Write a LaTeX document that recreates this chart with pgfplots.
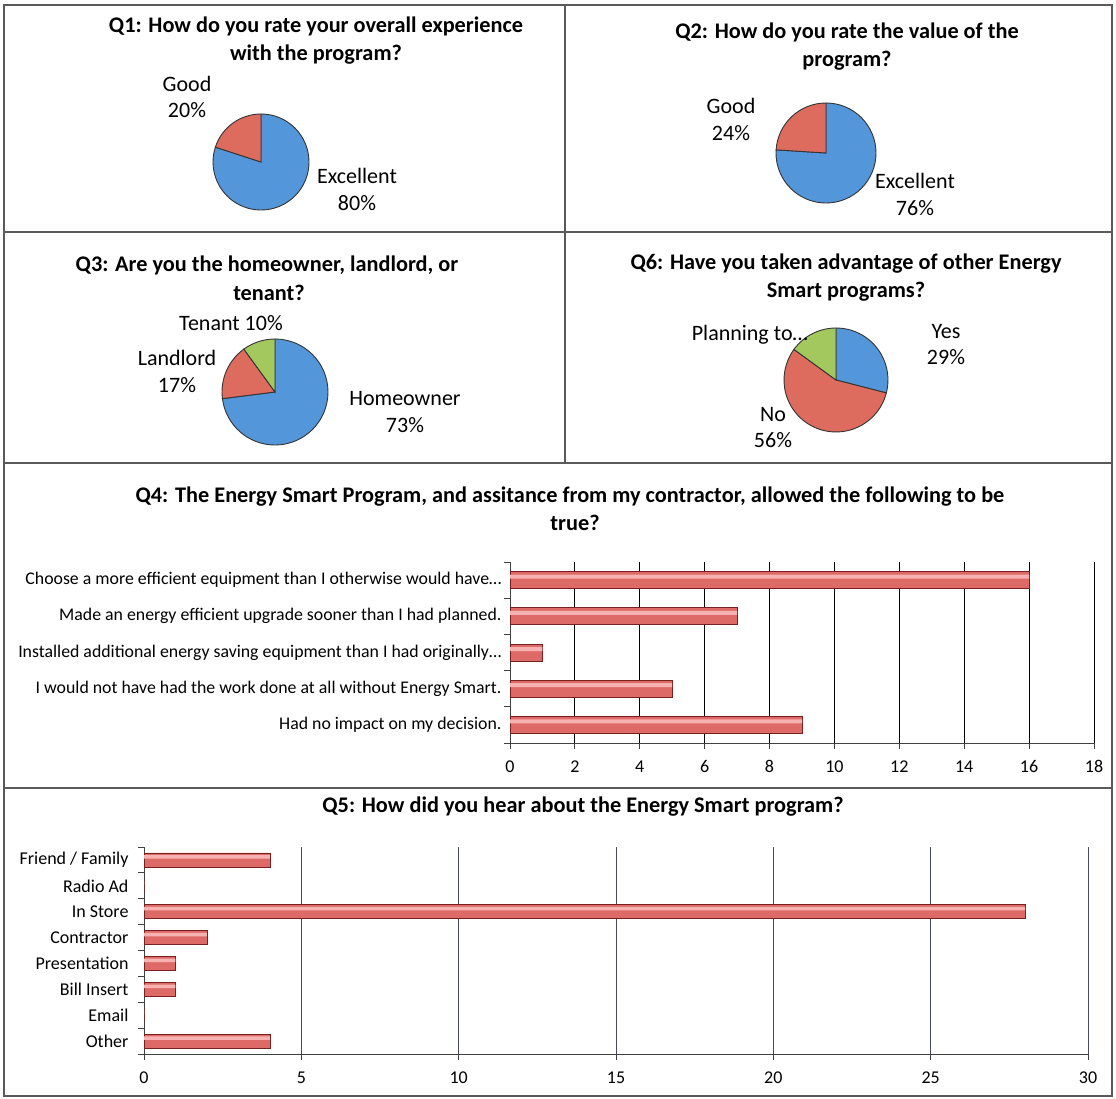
\documentclass[border=0pt]{standalone}
\usepackage{fontspec}
\setmainfont{Carlito}
\usepackage{pgfplots}
\pgfplotsset{compat=1.18}

\definecolor{pieblue}{RGB}{84,150,218}
\definecolor{piered}{RGB}{222,108,94}
\definecolor{piegreen}{RGB}{162,200,94}
\definecolor{barlight}{RGB}{246,178,176}
\definecolor{barmid}{RGB}{222,106,104}
\definecolor{bardark}{RGB}{120,32,32}
\definecolor{frame}{RGB}{90,90,90}
\definecolor{grid5}{RGB}{72,72,105}

% pie slice from cumulative percent #1 to #2, clockwise from 12 o'clock
\newcommand{\slice}[4]{%
  \filldraw[fill=#3, draw=black!80, line width=0.9pt]
    (axis cs:0,0) -- (axis cs:{cos(90-3.6*#1)},{sin(90-3.6*#1)})
    arc[start angle={90-3.6*#1}, end angle={90-3.6*#2}, radius=#4] -- cycle;}

\pgfplotsset{
  pie/.style={hide axis, scale only axis, width=#1, height=#1,
    xmin=-1, xmax=1, ymin=-1, ymax=1, anchor=center, clip=false},
  hbars/.style={scale only axis, anchor=south west,
    axis lines*=left, axis line style={-, black!75, line width=0.9pt},
    y tick label as interval, tick align=outside, major tick length=6pt,
    tick style={black!75, line width=0.8pt},
    xmajorgrids, xbar, xmin=0,
    /pgf/number format/assume math mode=true,
    ticklabel style={font=\fontsize{18}{21}\selectfont, black},
    xticklabel style={yshift=-8pt}},
  barstyle/.style={fill=barmid, draw=bardark, line width=0.7pt, bar shift=0pt},
  barhigh/.style={fill=barlight, draw=none, bar shift=#1}
}

\tikzset{ttl/.style={font=\fontsize{22.3}{26}\selectfont\bfseries, text height=15pt, text depth=5pt, inner sep=0pt},
  lbl/.style={font=\fontsize{22}{26}\selectfont, text height=15pt, text depth=5pt, inner sep=0pt}}

\begin{document}
\begin{tikzpicture}
\useasboundingbox (0pt,0pt) rectangle (1116pt,-1099pt);

% frames
\draw[frame, line width=1.2pt] (4pt,-5pt) rectangle (1112pt,-1096pt);
\draw[frame, line width=1.2pt] (565pt,-5pt) -- (565pt,-463pt);
\draw[frame, line width=1.2pt] (4pt,-232pt) -- (1112pt,-232pt);
\draw[frame, line width=1.2pt] (4pt,-463pt) -- (1112pt,-463pt);
\draw[frame, line width=1.2pt] (4pt,-788pt) -- (1112pt,-788pt);

% ---------- Q1
\node[ttl] at (316pt,-28pt) {Q1: How do you rate your overall experience};
\node[ttl] at (316pt,-56pt) {with the program?};
\begin{axis}[pie=96pt, at={(261pt,-162pt)}]
  \slice{0}{80}{pieblue}{48pt}
  \slice{80}{100}{piered}{48pt}
\end{axis}
\node[lbl] at (187pt,-87pt) {Good};
\node[lbl] at (187pt,-113pt) {20\%};
\node[lbl] at (357pt,-179pt) {Excellent};
\node[lbl] at (357pt,-206pt) {80\%};

% ---------- Q2
\node[ttl] at (847pt,-34pt) {Q2: How do you rate the value of the};
\node[ttl] at (847pt,-62pt) {program?};
\begin{axis}[pie=100pt, at={(826pt,-153pt)}]
  \slice{0}{76}{pieblue}{50pt}
  \slice{76}{100}{piered}{50pt}
\end{axis}
\node[lbl] at (731pt,-109pt) {Good};
\node[lbl] at (731pt,-136pt) {24\%};
\node[lbl] at (915pt,-184pt) {Excellent};
\node[lbl] at (915pt,-211pt) {76\%};

% ---------- Q3
\node[ttl] at (267pt,-267pt) {Q3: Are you the homeowner, landlord, or};
\node[ttl] at (269pt,-296pt) {tenant?};
\begin{axis}[pie=106pt, at={(275pt,-392pt)}]
  \slice{0}{73}{pieblue}{53pt}
  \slice{73}{90}{piered}{53pt}
  \slice{90}{100}{piegreen}{53pt}
\end{axis}
\node[lbl] at (231pt,-325pt) {Tenant 10\%};
\node[lbl] at (177pt,-360pt) {Landlord};
\node[lbl] at (177pt,-387pt) {17\%};
\node[lbl] at (405pt,-400pt) {Homeowner};
\node[lbl] at (405pt,-427pt) {73\%};

% ---------- Q6
\node[ttl] at (846pt,-265pt) {Q6: Have you taken advantage of other Energy};
\node[ttl] at (846pt,-293pt) {Smart programs?};
\begin{axis}[pie=104pt, at={(836pt,-380pt)}]
  \slice{0}{29}{pieblue}{52pt}
  \slice{29}{85}{piered}{52pt}
  \slice{85}{100}{piegreen}{52pt}
\end{axis}
\node[lbl, anchor=east] at (808pt,-335pt) {Planning to…};
\node[lbl] at (946pt,-333pt) {Yes};
\node[lbl] at (946pt,-359pt) {29\%};
\node[lbl] at (773pt,-416pt) {No};
\node[lbl] at (773pt,-442pt) {56\%};

% ---------- Q4
\node[ttl] at (570pt,-497pt) {Q4: The Energy Smart Program, and assitance from my contractor, allowed the following to be};
\node[ttl] at (575pt,-525pt) {true?};
\begin{axis}[hbars, at={(510pt,-743pt)}, width=584pt, height=181pt,
    xmax=18, xtick={0,2,...,18},
    ymin=-0.5, ymax=4.5, ytick={-0.5,0.5,...,4.5},
    yticklabels={{Had no impact on my decision.},
      {I would not have had the work done at all without Energy Smart.},
      {Installed additional energy saving equipment than I had originally…},
      {Made an energy efficient upgrade sooner than I had planned.},
      {Choose a more efficient equipment than I otherwise would have…}},
    yticklabel style={xshift=1pt, font=\fontsize{17.8}{21}\selectfont},
    grid style={black, line width=0.8pt}]
  \addplot[barstyle, bar width=17pt] coordinates {
    (9,0) (5,1) (1,2) (7,3) (16,4)};
  \addplot[barhigh=3.5pt, bar width=4pt] coordinates {
    (9,0) (5,1) (1,2) (7,3) (16,4)};
\end{axis}

% ---------- Q5
\node[ttl] at (583pt,-807pt) {Q5: How did you hear about the Energy Smart program?};
\begin{axis}[hbars, at={(144pt,-1054pt)}, width=944pt, height=207pt,
    xmax=30, xtick={0,5,...,30},
    ymin=-0.5, ymax=7.5, ytick={-0.5,0.5,...,7.5},
    yticklabels={Other, Email, Bill Insert, Presentation, Contractor,
      In Store, Radio Ad, Friend / Family},
    yticklabel style={xshift=-6pt},
    grid style={grid5, line width=0.8pt}]
  \addplot[barstyle, bar width=14pt] coordinates {
    (4,0) (0,1) (1,2) (1,3) (2,4) (28,5) (0,6) (4,7)};
  \addplot[barhigh=3pt, bar width=3.5pt] coordinates {
    (4,0) (0,1) (1,2) (1,3) (2,4) (28,5) (0,6) (4,7)};
\end{axis}
\end{tikzpicture}
\end{document}
